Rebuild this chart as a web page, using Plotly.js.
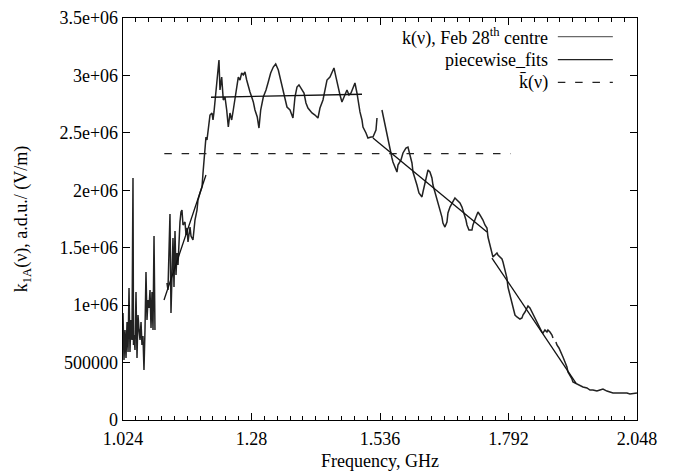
<!DOCTYPE html>
<html>
<head>
<meta charset="utf-8">
<script src="https://cdn.plot.ly/plotly-3.0.1.min.js"></script>
<style>
html,body{margin:0;padding:0;background:#fff;}
#chart{width:681px;height:475px;}
</style>
</head>
<body>
<div id="chart"></div>
<script>
// Measured spectrum k(nu), Feb 28th centre (GHz, a.d.u./(V/m)); null = gap in data
const freq = [
1.0240,1.0260,1.0280,1.0300,1.0320,1.0340,1.0360,1.0379,1.0399,1.0419,1.0439,1.0449,1.0459,1.0479,1.0499,1.0519,1.0539,1.0559,1.0579,1.0599,1.0618,1.0638,1.0658,1.0678,1.0698,1.0718,1.0738,1.0758,1.0778,1.0798,1.0818,1.0838,1.0858,1.0877,null,
1.1116,1.1136,1.1176,1.1196,1.1236,1.1256,1.1276,1.1296,1.1316,1.1336,1.1375,1.1395,1.1415,1.1435,1.1475,1.1495,1.1515,1.1535,1.1575,1.1595,1.1634,1.1674,1.1714,1.1734,1.1774,1.1814,1.1834,1.1854,1.1873,1.1893,1.1913,1.1933,1.1973,1.2013,1.2033,1.2053,
1.2093,1.2118,1.2152,1.2172,1.2206,1.2238,1.2272,1.2306,1.2338,1.2371,1.2405,1.2437,1.2471,1.2505,1.2537,1.2571,1.2604,1.2636,1.2670,1.2704,1.2736,1.2770,1.2804,1.2836,1.2869,1.2915,1.2949,1.2983,1.3035,1.3089,1.3134,1.3182,1.3234,1.3282,1.3334,1.3367,
1.3427,1.3507,1.3567,1.3607,1.3626,1.3666,1.3706,1.3746,1.3806,1.3846,1.3885,1.3925,1.4005,1.4065,1.4124,1.4164,1.4224,1.4264,1.4304,1.4363,1.4403,1.4443,1.4483,1.4523,1.4563,1.4602,1.4642,1.4702,1.4742,1.4782,1.4822,1.4861,1.4901,1.4921,1.4961,1.5001,1.5021,1.5081,1.5120,1.5180,1.5220,1.5280,1.5300,null,
1.5399,1.5439,1.5459,1.5479,1.5519,1.5559,1.5598,1.5618,1.5658,1.5698,1.5718,1.5758,1.5778,1.5818,1.5877,1.5917,1.5957,1.5997,1.6017,1.6057,1.6096,1.6136,1.6196,1.6216,1.6256,1.6296,1.6316,1.6355,1.6395,1.6415,1.6455,1.6495,1.6515,1.6555,1.6594,1.6614,1.6654,1.6694,1.6714,1.6754,1.6814,1.6853,1.6893,1.6953,1.6993,1.7033,1.7073,1.7093,1.7132,1.7192,1.7212,1.7272,1.7312,1.7351,1.7411,1.7451,1.7491,1.7511,1.7551,1.7590,1.7610,1.7650,1.7690,1.7710,1.7750,1.7790,1.7810,1.7849,1.7889,1.7909,1.7949,1.7989,1.8009,1.8049,1.8088,1.8108,1.8148,1.8188,1.8208,1.8248,1.8288,1.8308,1.8347,1.8387,1.8407,1.8447,1.8487,1.8507,1.8547,1.8586,1.8606,1.8646,1.8686,1.8706,1.8746,1.8786,1.8806,null,
1.8865,1.8885,1.8925,1.8965,1.9005,1.9045,1.9084,1.9104,1.9144,1.9184,1.9204,1.9284,1.9343,1.9403,1.9483,1.9543,1.9602,1.9682,1.9742,1.9802,1.9881,1.9941,2.0001,2.0081,2.0140,2.0200,2.0280,2.0339,2.0439,2.0479
];
const kMeasured = [
932000,522000,784000,540000,853000,592000,1149000,592000,871000,697000,2107000,653000,740000,609000,1114000,540000,914000,784000,697000,853000,653000,731000,435000,784000,1289000,871000,1045000,975000,1132000,801000,1114000,784000,1602000,784000,null,
1193000,1132000,1794000,932000,1585000,1158000,1646000,1262000,1454000,1350000,1724000,1811000,1828000,1698000,1724000,1611000,1672000,1550000,1680000,1602000,1567000,1741000,1828000,1915000,1976000,2029000,2151000,2264000,2351000,2464000,2438000,2525000,2655000,2673000,2612000,2682000,
2873000,3021000,3134000,2873000,2986000,2786000,2812000,2699000,2551000,2673000,2612000,2699000,2812000,2899000,2986000,2960000,3021000,3004000,3030000,2960000,2899000,2856000,2812000,2769000,2699000,2638000,2542000,2699000,2812000,2873000,2943000,3021000,3073000,3100000,3047000,2986000,
2873000,2725000,2699000,2655000,2629000,2812000,2899000,2917000,2873000,2847000,2760000,2716000,2673000,2655000,2629000,2716000,2786000,2873000,2960000,2986000,3021000,3065000,2986000,2899000,2830000,2769000,2812000,2873000,2830000,2847000,2891000,2934000,2847000,2786000,2682000,2612000,2551000,2499000,2455000,2464000,2464000,2525000,2629000,null,
2699000,2612000,2551000,2525000,2438000,2351000,2281000,2246000,2194000,2159000,2220000,2246000,2264000,2325000,2368000,2377000,2307000,2238000,2159000,2107000,2046000,1976000,1942000,1985000,2072000,2151000,2177000,2159000,2107000,2046000,1985000,1942000,1889000,1828000,1767000,1715000,1680000,1724000,1802000,1854000,1898000,1933000,1915000,1889000,1854000,1802000,1741000,1698000,1654000,1654000,1698000,1767000,1811000,1785000,1741000,1698000,1672000,1593000,1506000,1454000,1419000,1437000,1454000,1437000,1419000,1402000,1376000,1306000,1236000,1158000,1088000,1019000,958000,914000,897000,888000,879000,888000,914000,940000,984000,993000,975000,940000,914000,888000,853000,827000,801000,766000,757000,784000,766000,784000,766000,740000,714000,null,
679000,653000,627000,592000,549000,505000,461000,418000,392000,357000,331000,313000,296000,287000,279000,261000,261000,252000,261000,270000,252000,244000,235000,235000,235000,235000,235000,226000,235000,235000
];
// Piecewise linear fits (segment end points)
const fitFreq = [1.1057,1.1893,null,1.1993,1.5001,null,1.5220,1.7491,null,1.7590,1.9264];
const fitK    = [1045000,2133000,null,2810000,2836000,null,2455000,1637000,null,1410000,322000];
// Mean k(nu)
const meanFreq = [1.1063,1.7963];
const meanK    = [2320000,2320000];
// Axis ticks
const xTickVals = [1.024,1.28,1.536,1.792,2.048];
const xTickText = ['1.024','1.28','1.536','1.792','2.048'];
const yTickVals = [0,500000,1000000,1500000,2000000,2500000,3000000,3500000];
const yTickText = ['0','500000','1e+06','1.5e+06','2e+06','2.5e+06','3e+06','3.5e+06'];
const legendLabels = ['k(\u03bd), Feb 28<sup>th</sup> centre','piecewise_fits','k\u0304(\u03bd)'];

const FONT = '"Liberation Serif", "DejaVu Serif", serif';
const traces = [
  {x: freq, y: kMeasured, type:'scatter', mode:'lines', name:'k(ν), Feb 28th centre',
   line:{color:'#222', width:1.5}, connectgaps:false, showlegend:false},
  {x: fitFreq, y: fitK, type:'scatter', mode:'lines', name:'piecewise_fits',
   line:{color:'#111', width:1.3}, connectgaps:false, showlegend:false},
  {x: meanFreq, y: meanK, type:'scatter', mode:'lines', name:'k̄(ν)',
   line:{color:'#222', width:1.3, dash:'7.5px,9.8px'}, showlegend:false}
];

const rowY = [0.9535, 0.8964, 0.8400];
const annotations = legendLabels.map((t,i)=>({
  text:t, xref:'paper', yref:'paper', x:0.8307, y:rowY[i], xanchor:'right', yanchor:'middle',
  showarrow:false, font:{family:FONT, size:18, color:'#000'}
}));
const legendStyles = [{color:'#6a6a6a',dash:'solid'},{color:'#222',dash:'solid'},{color:'#222',dash:'7.5px,9.8px'}];
const shapes = legendStyles.map((s,i)=>({
  type:'line', xref:'paper', yref:'paper', x0:0.846, x1:0.953, y0:rowY[i], y1:rowY[i],
  line:{color:s.color, width:1.3, dash:s.dash}
}));

const layout = {
  width:681, height:475,
  margin:{l:123, r:44, t:18, b:55, pad:0},
  paper_bgcolor:'#fff', plot_bgcolor:'#fff',
  font:{family:FONT, size:18, color:'#000'},
  showlegend:false,
  xaxis:{
    range:[1.024,2.048], tickmode:'array', tickvals:xTickVals, ticktext:xTickText,
    ticks:'inside', ticklen:7, tickwidth:1, tickcolor:'#000',
    showline:true, linecolor:'#000', linewidth:1.3, mirror:'ticks',
    showgrid:false, zeroline:false, ticklabelstandoff:2,
    minor:{tick0:1.024, dtick:0.0256, ticks:'inside', ticklen:4, tickwidth:1, tickcolor:'#000', showgrid:false},
    tickfont:{family:FONT, size:18, color:'#000'},
    title:{text:'Frequency, GHz', font:{family:FONT, size:18, color:'#000'}, standoff:6}
  },
  yaxis:{
    range:[0,3500000], tickmode:'array', tickvals:yTickVals, ticktext:yTickText,
    ticks:'inside', ticklen:7, tickwidth:1, tickcolor:'#000',
    showline:true, linecolor:'#000', linewidth:1.3, mirror:'ticks',
    showgrid:false, zeroline:false,
    tickfont:{family:FONT, size:18, color:'#000'},
    title:{text:'k<sub>1A</sub>(\u03bd), a.d.u./ (V/m)', font:{family:FONT, size:18, color:'#000'}, standoff:27}
  },
  annotations:annotations,
  shapes:shapes
};
Plotly.newPlot('chart', traces, layout, {displayModeBar:false, staticPlot:true});
</script>
</body>
</html>
